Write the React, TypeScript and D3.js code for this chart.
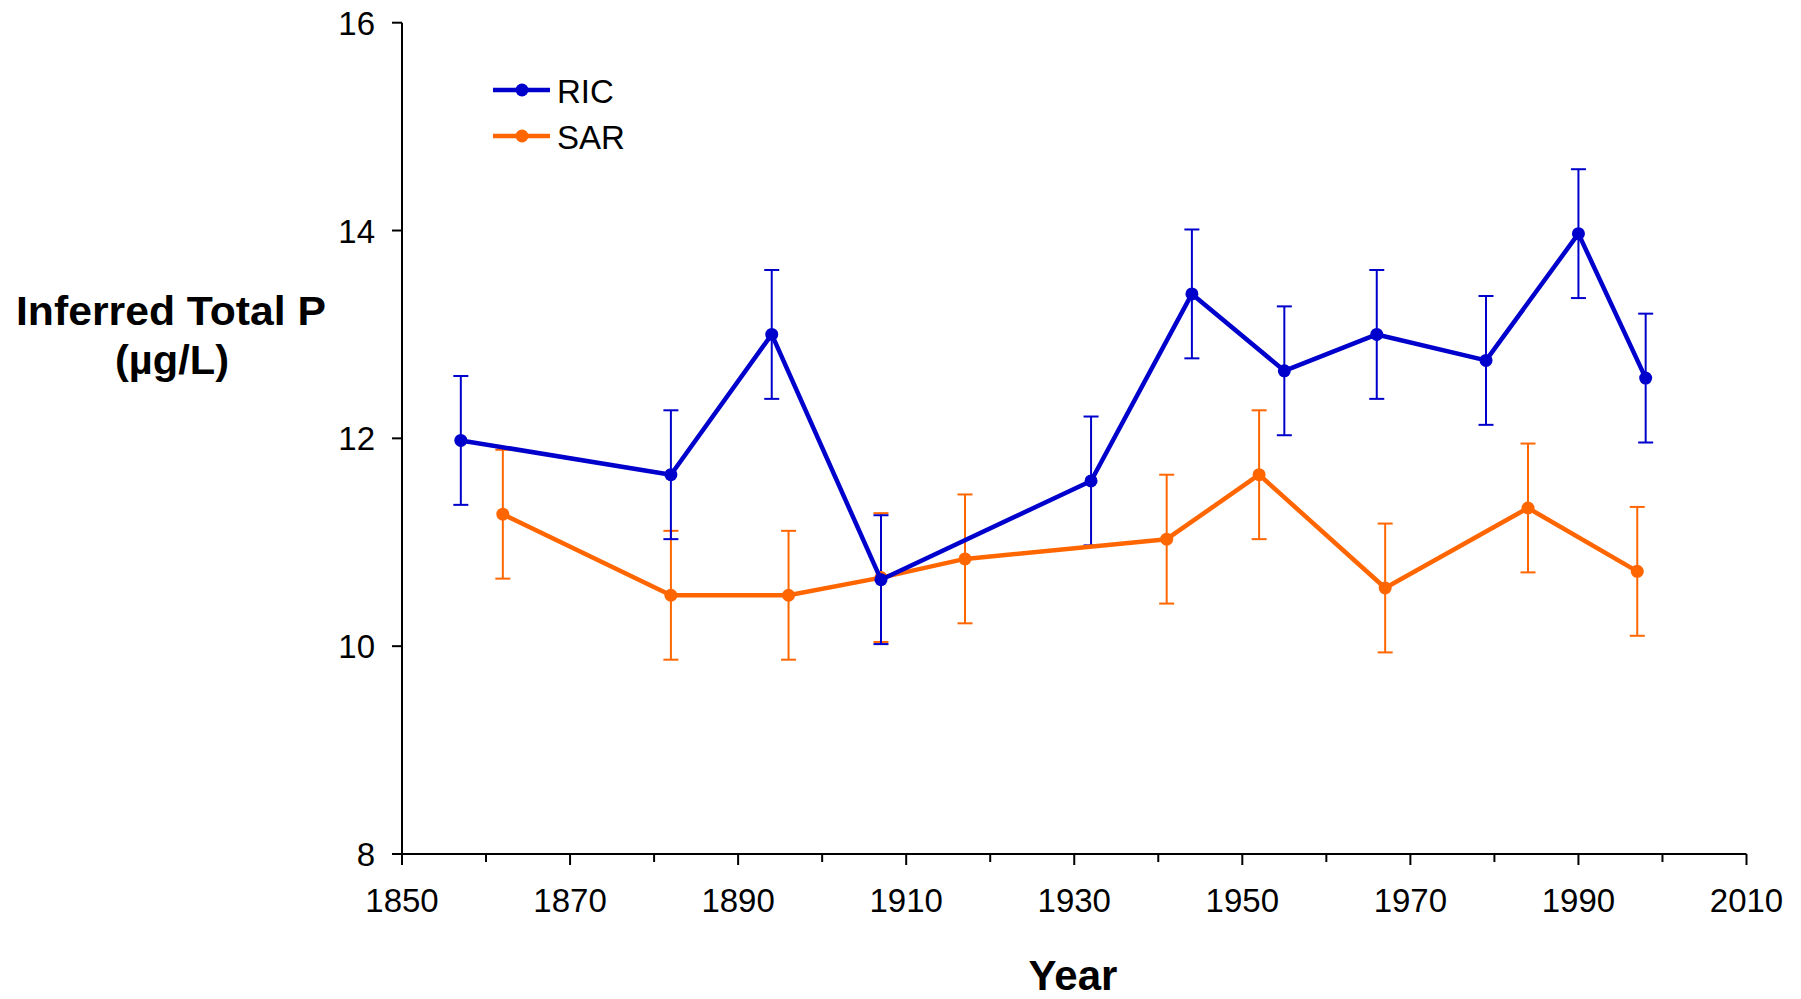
import React from "react";
import * as d3 from "d3";

// values
const ricYears = [1857, 1882, 1894, 1907, 1932, 1944, 1955, 1966, 1979, 1990, 1998];
const ricValues = [11.98, 11.65, 13.0, 10.64, 11.59, 13.39, 12.65, 13.0, 12.75, 13.97, 12.58];
const ricErr = [0.62, 0.62, 0.62, 0.62, 0.62, 0.62, 0.62, 0.62, 0.62, 0.62, 0.62];

const sarYears = [1862, 1882, 1896, 1907, 1917, 1941, 1952, 1967, 1984, 1997];
const sarValues = [11.27, 10.49, 10.49, 10.66, 10.84, 11.03, 11.65, 10.56, 11.33, 10.72];
const sarErr = [0.62, 0.62, 0.62, 0.62, 0.62, 0.62, 0.62, 0.62, 0.62, 0.62];

const xMajorTicks = [1850, 1870, 1890, 1910, 1930, 1950, 1970, 1990, 2010];
const xMinorTicks = [1860, 1880, 1900, 1920, 1940, 1960, 1980, 2000];
const yTicks = [8, 10, 12, 14, 16];

const seriesNames = ["RIC", "SAR"];
const seriesColors = ["#0000CC", "#FF6600"];

const W = 1801;
const H = 999;
const font = "'Liberation Sans', Arial, sans-serif";

export default function App() {
  const x = d3.scaleLinear().domain([1850, 2010]).range([402, 1746.5]);
  const y = d3.scaleLinear().domain([8, 16]).range([854, 22.7]);

  const line = d3
    .line<[number, number]>()
    .x((d) => x(d[0]))
    .y((d) => y(d[1]));

  const series = [
    { years: ricYears, values: ricValues, err: ricErr },
    { years: sarYears, values: sarValues, err: sarErr },
  ];

  // draw SAR first, RIC on top
  const order = [1, 0];

  return (
    <svg
      width={W}
      height={H}
      style={{ position: "absolute", left: 0, top: 0, background: "#fff" }}
      fontFamily={font}
    >
      {/* axes */}
      <line x1={x(1850)} x2={x(1850)} y1={y(16)} y2={y(8)} stroke="#000" strokeWidth={2} />
      <line x1={x(1850) - 10} x2={x(2010)} y1={y(8)} y2={y(8)} stroke="#000" strokeWidth={2} />
      {yTicks.map((t) => (
        <g key={"y" + t}>
          <line x1={x(1850) - 10} x2={x(1850)} y1={y(t)} y2={y(t)} stroke="#000" strokeWidth={2} />
          <text x={x(1850) - 27} y={y(t) + 12} fontSize={33} textAnchor="end">
            {t}
          </text>
        </g>
      ))}
      {xMajorTicks.map((t) => (
        <g key={"x" + t}>
          <line x1={x(t)} x2={x(t)} y1={y(8)} y2={y(8) + 11} stroke="#000" strokeWidth={2} />
          <text x={x(t)} y={912} fontSize={33} textAnchor="middle">
            {t}
          </text>
        </g>
      ))}
      {xMinorTicks.map((t) => (
        <line key={"m" + t} x1={x(t)} x2={x(t)} y1={y(8)} y2={y(8) + 8} stroke="#000" strokeWidth={2} />
      ))}

      {/* error bars */}
      {order.map((si) => {
        const s = series[si];
        return (
          <g key={"err" + si} stroke={seriesColors[si]} strokeWidth={2}>
            {s.years.map((yr, i) => {
              const cx = x(yr);
              const top = y(s.values[i] + s.err[i]);
              const bot = y(s.values[i] - s.err[i]);
              return (
                <g key={i}>
                  <line x1={cx} x2={cx} y1={top} y2={bot} />
                  <line x1={cx - 7.5} x2={cx + 7.5} y1={top} y2={top} />
                  <line x1={cx - 7.5} x2={cx + 7.5} y1={bot} y2={bot} />
                </g>
              );
            })}
          </g>
        );
      })}

      {/* lines + markers */}
      {order.map((si) => {
        const s = series[si];
        const pts = s.years.map((yr, i) => [yr, s.values[i]] as [number, number]);
        return (
          <g key={"ln" + si}>
            <path d={line(pts) || ""} fill="none" stroke={seriesColors[si]} strokeWidth={4.5} strokeLinejoin="round" />
            {pts.map((p, i) => (
              <circle key={i} cx={x(p[0])} cy={y(p[1])} r={6.5} fill={seriesColors[si]} />
            ))}
          </g>
        );
      })}

      {/* legend */}
      {seriesNames.map((name, i) => {
        const ly = 90 + i * 46;
        return (
          <g key={name}>
            <line x1={493} x2={550} y1={ly} y2={ly} stroke={seriesColors[i]} strokeWidth={4.5} />
            <circle cx={522} cy={ly} r={6.5} fill={seriesColors[i]} />
            <text x={557} y={ly + 13} fontSize={33}>
              {name}
            </text>
          </g>
        );
      })}

      {/* axis titles */}
      <text x={171} y={325} fontSize={40} fontWeight="bold" textAnchor="middle" textLength={310} lengthAdjust="spacingAndGlyphs">
        Inferred Total P
      </text>
      <text x={172} y={374} fontSize={40} fontWeight="bold" textAnchor="middle" textLength={114} lengthAdjust="spacingAndGlyphs">
        (µg/L)
      </text>
      <text x={1073} y={990} fontSize={42} fontWeight="bold" textAnchor="middle">
        Year
      </text>
    </svg>
  );
}
